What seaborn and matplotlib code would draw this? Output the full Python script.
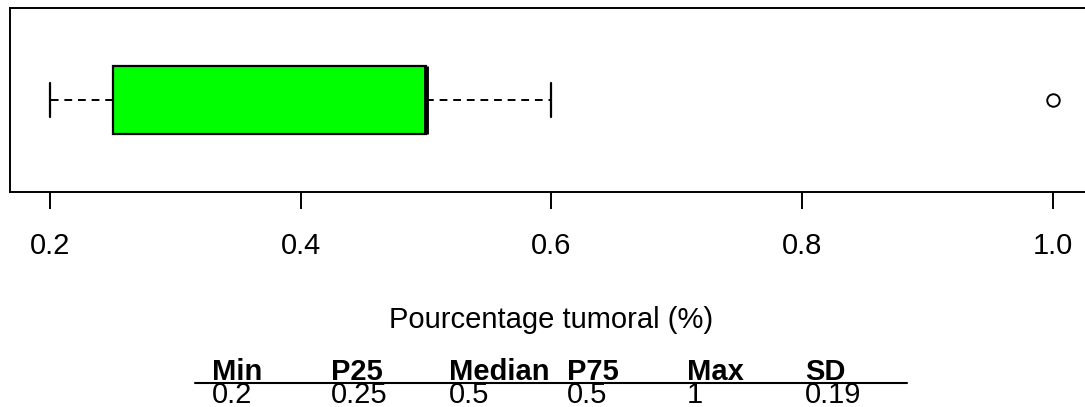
import numpy as np
import matplotlib
matplotlib.use("Agg")
import matplotlib.pyplot as plt
import seaborn as sns

# tumour percentage per sample
pct_tumoral = [0.2, 0.25, 0.25, 0.25, 0.25, 0.3, 0.4,
               0.5, 0.5, 0.5, 0.5, 0.5, 0.5, 0.5, 0.5, 0.6, 1.0]
x_ticks = [0.2, 0.4, 0.6, 0.8, 1.0]
x_tick_labels = ["0.2", "0.4", "0.6", "0.8", "1.0"]
stat_labels = ["Min", "P25", "Median", "P75", "Max", "SD"]
stat_x_px = [212, 331, 449, 567, 687, 805]

W, H = 1085, 407
FS = 21

sns.set_theme(style="white")
plt.rcParams["font.family"] = ["Liberation Sans", "DejaVu Sans"]

fig = plt.figure(figsize=(W / 100, H / 100), dpi=100)
ax = fig.add_axes([10 / W, 1 - 192 / H, (1093 - 10) / W, (192 - 8) / H])

sns.boxplot(x=pct_tumoral, orient="h", ax=ax, width=0.37, whis=1.5,
            color="#00FF00", saturation=1, linecolor="black", linewidth=1.6,
            fliersize=9,
            medianprops=dict(color="black", linewidth=3.5, solid_capstyle="butt"),
            whiskerprops=dict(color="black", linewidth=1.4, linestyle=(0, (4, 3))),
            capprops=dict(color="black", linewidth=1.6),
            flierprops=dict(marker="o", markerfacecolor="none",
                            markeredgecolor="black", markeredgewidth=1.4))

vals = np.array(pct_tumoral)
lo, hi = vals.min(), vals.max()
pad = (hi - lo) * 0.04
ax.set_xlim(lo - pad, hi + pad)
ax.set_ylim(0.5, -0.5)
ax.set_yticks([])
ax.set_ylabel("")
ax.set_xticks(x_ticks)
ax.set_xticklabels(x_tick_labels)
ax.tick_params(axis="x", bottom=True, length=12, width=1.4, color="black",
               pad=17, labelsize=FS, labelcolor="black")
for s in ax.spines.values():
    s.set_visible(True)
    s.set_color("black")
    s.set_linewidth(1.4)
ax.set_xlabel("Pourcentage tumoral (%)", fontsize=FS, labelpad=33, color="black")

# summary table under the chart
stats = [lo, np.percentile(vals, 25), np.median(vals), np.percentile(vals, 75),
         hi, np.std(vals, ddof=1)]
for lab, v, xp in zip(stat_labels, stats, stat_x_px):
    fig.text(xp / W, 1 - 380 / H, lab, fontsize=FS, fontweight="bold",
             ha="left", va="baseline", color="black")
    fig.text(xp / W, 1 - 403 / H, f"{round(v, 2):g}", fontsize=FS,
             ha="left", va="baseline", color="black")
fig.add_artist(plt.Line2D([195 / W, 907 / W], [1 - 383 / H, 1 - 383 / H],
                          color="black", linewidth=1.5))

fig.savefig("out.png", dpi=100)
